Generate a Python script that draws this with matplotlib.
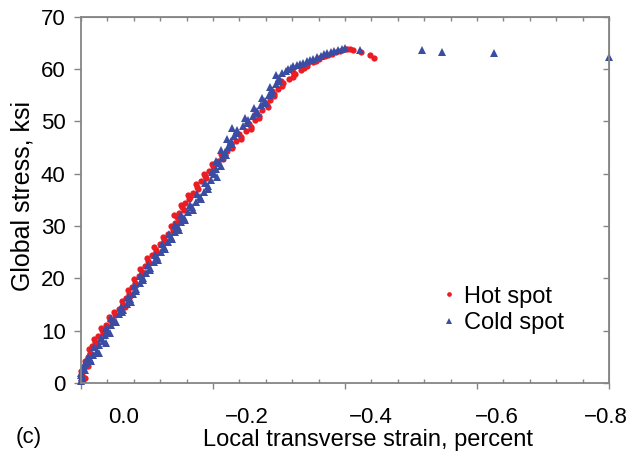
import matplotlib
matplotlib.use("Agg")
import matplotlib.pyplot as plt
from matplotlib.ticker import MultipleLocator

plt.rcParams['font.family'] = ['Liberation Sans', 'DejaVu Sans']

# hot spot readings (strain in percent, stress in ksi)
hot_strain = [0.000, -0.002, -0.004, -0.007, -0.011, -0.013, -0.017, -0.021, -0.026, -0.032,
              -0.038, -0.044, -0.051, -0.058, -0.064, -0.068, -0.072, -0.077, -0.082, -0.088,
              -0.092, -0.097, -0.101, -0.107, -0.113, -0.119, -0.126, -0.132, -0.140, -0.143,
              -0.146, -0.149, -0.153, -0.158, -0.165, -0.170, -0.176, -0.182, -0.188, -0.194,
              -0.200, -0.207, -0.214, -0.221, -0.228, -0.235, -0.242, -0.250, -0.257, -0.263,
              -0.269, -0.275, -0.282, -0.287, -0.292, -0.298, -0.306, -0.315, -0.324, -0.333,
              -0.342, -0.351, -0.360, -0.370, -0.381, -0.392, -0.400, -0.407, -0.412, -0.424,
              -0.438, -0.444,
              -0.006, 0.000, -0.010, -0.006, -0.018, -0.012, -0.024, -0.020, -0.033, -0.030,
              -0.047, -0.043, -0.050, -0.066, -0.062, -0.074, -0.071, -0.083, -0.080, -0.094,
              -0.090, -0.103, -0.100, -0.114, -0.111, -0.128, -0.124, -0.139, -0.136, -0.148,
              -0.141, -0.156, -0.151, -0.164, -0.162, -0.177, -0.174, -0.189, -0.186, -0.202,
              -0.198, -0.215, -0.212, -0.229, -0.226, -0.243, -0.239, -0.258, -0.254, -0.270,
              -0.265, -0.283, -0.279, -0.293, -0.290, -0.305, -0.303, -0.321, -0.322, -0.338,
              -0.343, -0.356, -0.361, -0.375, -0.386, -0.396, -0.403]
hot_stress = [0.4, 1.5, 2.8, 3.6, 4.9, 5.8, 7.0, 7.9, 9.0, 10.1,
              11.0, 12.1, 13.0, 14.1, 15.0, 16.2, 17.1, 18.3, 19.2, 20.4,
              21.3, 22.4, 23.3, 24.5, 25.4, 26.5, 27.5, 28.4, 29.5, 30.6,
              31.7, 32.5, 33.6, 34.5, 35.6, 36.4, 37.5, 38.6, 39.6, 40.5,
              41.4, 42.4, 43.3, 44.4, 45.3, 46.2, 47.1, 48.1, 49.0, 50.2,
              51.1, 52.2, 53.1, 54.2, 55.3, 56.2, 57.3, 58.2, 59.0, 59.8,
              60.6, 61.3, 61.9, 62.5, 63.0, 63.5, 63.8, 63.9, 63.6, 63.2,
              62.7, 62.2,
              1.0, 2.2, 3.2, 4.2, 5.4, 6.4, 7.5, 8.5, 9.6, 10.6,
              11.6, 12.6, 13.6, 14.6, 15.6, 16.7, 17.7, 18.8, 19.8, 20.9,
              21.8, 22.9, 23.9, 25.0, 26.0, 27.0, 28.0, 29.0, 30.0, 31.2,
              32.1, 33.1, 34.0, 35.1, 36.0, 37.0, 38.1, 39.1, 40.0, 41.0,
              41.9, 42.9, 43.8, 44.9, 45.8, 46.7, 47.6, 48.6, 49.6, 50.7,
              51.6, 52.7, 53.6, 54.8, 55.8, 56.8, 57.8, 58.6, 59.4, 60.2,
              61.0, 61.6, 62.2, 62.8, 63.3, 63.7, 63.9]

# cold spot readings
cold_strain = [0.000, -0.001, 0.000, -0.003, -0.008, -0.013, -0.018, -0.024, -0.028, -0.033,
               -0.037, -0.041, -0.045, -0.050, -0.057, -0.063, -0.070, -0.074, -0.079, -0.084,
               -0.089, -0.094, -0.099, -0.104, -0.110, -0.115, -0.121, -0.126, -0.132, -0.137,
               -0.142, -0.147, -0.151, -0.156, -0.162, -0.168, -0.174, -0.181, -0.187, -0.193,
               -0.197, -0.201, -0.205, -0.209, -0.214, -0.218, -0.223, -0.228, -0.232, -0.236,
               -0.246, -0.253, -0.260, -0.267, -0.273, -0.279, -0.285, -0.290, -0.295, -0.300,
               -0.305, -0.313, -0.322, -0.332, -0.342, -0.352, -0.363, -0.373, -0.384, -0.395,
               -0.423, -0.517, -0.547, -0.626, -0.800,
               -0.003, 0.000, -0.006, -0.004, -0.015, -0.011, -0.027, -0.020, -0.038, -0.030,
               -0.044, -0.038, -0.053, -0.046, -0.062, -0.060, -0.076, -0.071, -0.084, -0.081,
               -0.094, -0.090, -0.104, -0.101, -0.116, -0.112, -0.128, -0.122, -0.138, -0.134,
               -0.148, -0.143, -0.157, -0.152, -0.169, -0.165, -0.182, -0.176, -0.193, -0.188,
               -0.206, -0.198, -0.212, -0.205, -0.220, -0.212, -0.229, -0.221, -0.236, -0.229,
               -0.252, -0.248, -0.266, -0.262, -0.279, -0.274, -0.290, -0.286, -0.300, -0.296,
               -0.310, -0.318, -0.328, -0.337, -0.347, -0.357, -0.368, -0.379, -0.390, -0.400]
cold_stress = [0.3, 1.2, 2.0, 2.9, 3.8, 4.5, 5.4, 6.2, 7.3, 8.1,
               9.2, 10.0, 11.1, 12.0, 13.1, 14.0, 15.1, 16.0, 17.1, 18.0,
               19.1, 20.0, 21.1, 22.0, 23.1, 24.0, 25.1, 26.0, 27.0, 27.9,
               28.8, 29.8, 30.7, 31.6, 32.6, 33.6, 34.6, 35.6, 36.6, 37.7,
               38.8, 39.9, 41.0, 42.0, 43.1, 44.1, 45.2, 46.2, 47.3, 48.4,
               49.2, 50.2, 51.1, 52.1, 53.1, 54.0, 55.0, 56.1, 57.2, 58.3,
               59.2, 60.0, 60.6, 61.0, 61.5, 62.0, 62.6, 63.1, 63.5, 63.9,
               63.6, 63.7, 63.3, 63.1, 62.3,
               0.8, 1.6, 2.5, 3.4, 4.2, 5.0, 5.8, 6.8, 7.7, 8.6,
               9.6, 10.5, 11.6, 12.5, 13.6, 14.5, 15.5, 16.5, 17.6, 18.5,
               19.6, 20.5, 21.6, 22.5, 23.6, 24.5, 25.6, 26.5, 27.5, 28.4,
               29.3, 30.2, 31.1, 32.1, 33.1, 34.1, 35.1, 36.1, 37.1, 38.2,
               39.3, 40.4, 41.5, 42.5, 43.6, 44.6, 45.7, 46.7, 47.8, 48.8,
               49.7, 50.7, 51.6, 52.6, 53.6, 54.5, 55.5, 56.6, 57.7, 58.8,
               59.6, 60.3, 60.8, 61.2, 61.8, 62.3, 62.9, 63.3, 63.7, 64.0]

x_ticks = [0.0, -0.2, -0.4, -0.6, -0.8]
x_labels = ['0.0', '\u22120.2', '\u22120.4', '\u22120.6', '\u22120.8']
# the printed labels sit a bit off their tick marks in the source figure
x_label_pos = [-0.064, -0.251, -0.439, -0.630, -0.796]
y_ticks = [0, 10, 20, 30, 40, 50, 60, 70]

gray = '#858585'
red = '#ec1c24'
blue = '#3b4da3'

fig = plt.figure(figsize=(6.43, 4.57), dpi=100)
ax = fig.add_axes([0.126, 0.162, 0.821, 0.801])

ax.plot(hot_strain, hot_stress, 'o', color=red, ms=4.5, mew=0, label='Hot spot', clip_on=False)
ax.plot(cold_strain, cold_stress, '^', color=blue, ms=5.5, mew=0, label='Cold spot', clip_on=False)

ax.set_xlim(0.0, -0.8)
ax.set_ylim(0, 70)
ax.set_xticks(x_ticks)
ax.xaxis.set_minor_locator(MultipleLocator(0.04))
ax.set_yticks(y_ticks)

for s in ax.spines.values():
    s.set_color(gray)
    s.set_linewidth(1.3)

ax.tick_params(axis='x', which='major', direction='out', length=4, width=1, color=gray, labelbottom=False)
ax.tick_params(axis='x', which='minor', direction='in', length=3, width=1, color=gray)
ax.tick_params(axis='y', which='major', direction='out', length=5, width=1, color=gray, labelsize=16, pad=6)

# labels on their own bottom axis so they can sit where the source put them
lab = ax.secondary_xaxis('bottom')
lab.set_xticks(x_label_pos, labels=x_labels)
lab.tick_params(length=0, labelsize=16, pad=17)
lab.spines['bottom'].set_visible(False)

top = ax.secondary_xaxis('top')
top.set_xticks(x_ticks, labels=[])
top.xaxis.set_minor_locator(MultipleLocator(0.04))
top.tick_params(which='both', direction='in', length=3, width=1, color=gray)
top.spines['top'].set_color(gray)

right = ax.secondary_yaxis('right')
right.set_yticks(y_ticks, labels=[])
right.tick_params(direction='in', length=4, width=1, color=gray)
right.spines['right'].set_color(gray)

ax.set_xlabel('Local transverse strain, percent', fontsize=17)
ax.xaxis.set_label_coords(0.544, -0.125)
ax.set_ylabel('Global stress, ksi', fontsize=18)
ax.yaxis.set_label_coords(-0.089, 0.51)

fig.text(0.045, 1 - 437 / 457, '(c)', fontsize=16, ha='center', va='center')

ax.legend(loc='upper left', bbox_to_anchor=(0.661, 0.292), frameon=False, fontsize=17,
          handlelength=0.8, handletextpad=0.25, labelspacing=0.2, markerscale=0.75,
          borderaxespad=0)

fig.savefig('out.png', dpi=100)
